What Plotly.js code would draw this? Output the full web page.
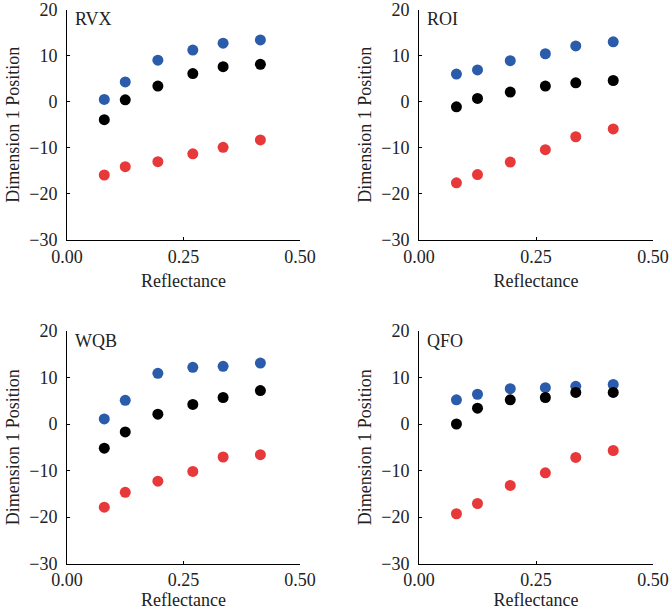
<!DOCTYPE html>
<html>
<head>
<meta charset="utf-8">
<script src="https://cdn.plot.ly/plotly-3.0.1.min.js"></script>
<style>
  html, body { margin: 0; padding: 0; background: #fff; }
  #plot { width: 669px; height: 610px; }
</style>
</head>
<body>
<div id="plot"></div>
<script>
// reflectance levels, same for every panel
var reflectance = [0.08, 0.125, 0.195, 0.27, 0.335, 0.415];

var panelNames = ['RVX', 'ROI', 'WQB', 'QFO'];

// Dimension 1 position, per panel: blue (top), black (middle), red (bottom)
var blueRVX  = [0.5, 4.3, 9.0, 11.2, 12.7, 13.4];
var blackRVX = [-3.9, 0.4, 3.4, 6.1, 7.6, 8.1];
var redRVX   = [-15.9, -14.1, -13.0, -11.3, -9.9, -8.3];

var blueROI  = [6.0, 6.9, 8.9, 10.4, 12.1, 13.0];
var blackROI = [-1.1, 0.7, 2.1, 3.4, 4.1, 4.6];
var redROI   = [-17.6, -15.8, -13.1, -10.4, -7.6, -5.9];

var blueWQB  = [1.1, 5.1, 10.9, 12.2, 12.4, 13.1];
var blackWQB = [-5.2, -1.7, 2.1, 4.2, 5.7, 7.2];
var redWQB   = [-17.9, -14.7, -12.3, -10.2, -7.1, -6.6];

var blueQFO  = [5.2, 6.4, 7.6, 7.8, 8.1, 8.5];
var blackQFO = [0.0, 3.4, 5.2, 5.7, 6.8, 6.8];
var redQFO   = [-19.3, -17.1, -13.2, -10.5, -7.2, -5.7];

var xTickVals = [0, 0.25, 0.5];
var xTickText = ['0.00', '0.25', '0.50'];
var yTickVals = [-30, -20, -10, 0, 10, 20];

var panels = [
  [blueRVX, blackRVX, redRVX],
  [blueROI, blackROI, redROI],
  [blueWQB, blackWQB, redWQB],
  [blueQFO, blackQFO, redQFO]
];
var colors = ['#2a5cab', '#000000', '#e8393a'];

var serif = 'Liberation Serif';
var txt = '#222';

var data = [];
panels.forEach(function(series, p) {
  var ax = p === 0 ? '' : String(p + 1);
  series.forEach(function(ys, s) {
    data.push({
      x: reflectance,
      y: ys,
      xaxis: 'x' + ax,
      yaxis: 'y' + ax,
      type: 'scatter',
      mode: 'markers',
      marker: {color: colors[s], size: 11},
      showlegend: false,
      hoverinfo: 'x+y'
    });
  });
});

var xDomains = [[67/669, 300/669], [419/669, 653/669]];
var yDomains = [[1 - 240/610, 1 - 9.5/610], [1 - 563.5/610, 1 - 331/610]];

function xAxis(d, anchor) {
  return {
    domain: d, anchor: anchor,
    range: [0, 0.5],
    tickvals: xTickVals, ticktext: xTickText,
    ticks: 'inside', ticklen: 3, tickcolor: '#000',
    showline: true, linecolor: '#000', linewidth: 1,
    showgrid: false, zeroline: false,
    ticklabeloverflow: 'allow',
    tickfont: {family: serif, size: 18, color: txt},
    title: {text: 'Reflectance', font: {family: serif, size: 18, color: txt}, standoff: 8}
  };
}
function yAxis(d, anchor) {
  return {
    domain: d, anchor: anchor,
    range: [-30, 20],
    tickvals: yTickVals,
    ticks: 'inside', ticklen: 3, tickcolor: '#000',
    ticklabelstandoff: 5,
    ticklabeloverflow: 'allow',
    showline: true, linecolor: '#000', linewidth: 1,
    showgrid: false, zeroline: false,
    tickfont: {family: serif, size: 18, color: txt},
    title: {text: 'Dimension 1 Position', font: {family: serif, size: 18, color: txt}, standoff: 4}
  };
}

var layout = {
  width: 669, height: 610,
  margin: {l: 0, r: 0, t: 0, b: 0},
  paper_bgcolor: '#fff', plot_bgcolor: '#fff',
  xaxis:  xAxis(xDomains[0], 'y'),
  yaxis:  yAxis(yDomains[0], 'x'),
  xaxis2: xAxis(xDomains[1], 'y2'),
  yaxis2: yAxis(yDomains[0], 'x2'),
  xaxis3: xAxis(xDomains[0], 'y3'),
  yaxis3: yAxis(yDomains[1], 'x3'),
  xaxis4: xAxis(xDomains[1], 'y4'),
  yaxis4: yAxis(yDomains[1], 'x4'),
  annotations: panelNames.map(function(name, p) {
    var ax = p === 0 ? '' : String(p + 1);
    return {
      text: name, xref: 'x' + ax + ' domain', yref: 'y' + ax + ' domain',
      x: 0.025, y: 1.01, xanchor: 'left', yanchor: 'top', showarrow: false,
      font: {family: serif, size: 18, color: txt}
    };
  })
};

Plotly.newPlot('plot', data, layout, {displayModeBar: false});
</script>
</body>
</html>
